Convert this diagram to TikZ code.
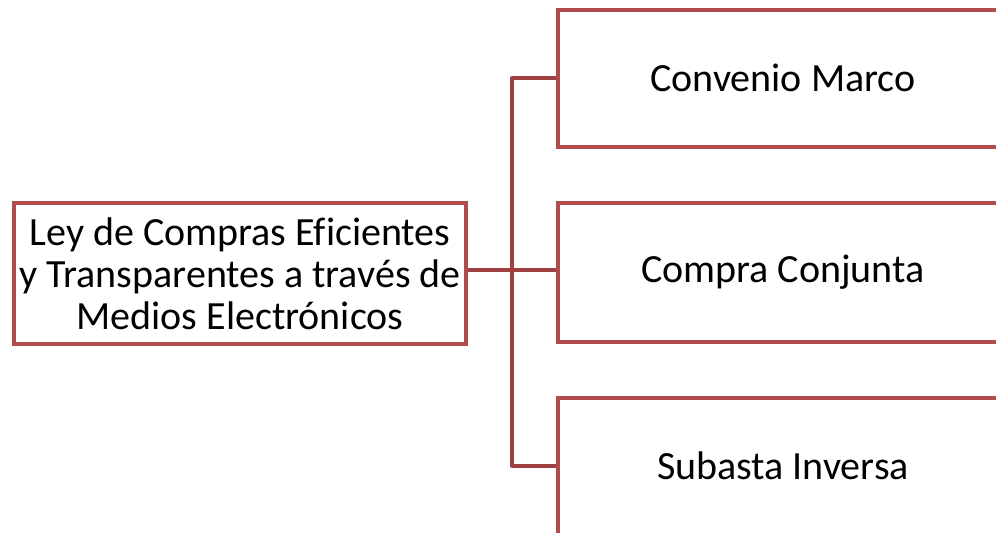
\documentclass[tikz,border=0pt]{standalone}
\usepackage{fontspec}
\setmainfont{Carlito}[Ligatures=CommonOff]
\definecolor{boxred}{RGB}{176,76,76}
\definecolor{linkred}{RGB}{160,64,64}
\begin{document}
\begin{tikzpicture}[x=0.75pt,y=-0.75pt,
        boxnode/.style={draw=boxred, line width=3pt, fill=white, font=\fontsize{30}{31.5}\selectfont, align=center, inner sep=0pt},
        link/.style={draw=linkred, line width=3pt, line join=round}]
                \clip (0,0) rectangle (996,532);
                \useasboundingbox (0,0) rectangle (996,532);

                \node [boxnode, minimum width=452*0.75pt, minimum height=141*0.75pt] (ley) at (240,273.5) {Ley de Compras Eficientes\\y Transparentes a través de\\Medios Electrónicos};

                \node [boxnode, minimum width=450*0.75pt, minimum height=137*0.75pt, anchor=west] (marco) at (556,78) {Convenio Marco};
                \node [boxnode, minimum width=450*0.75pt, minimum height=139*0.75pt, anchor=west] (conjunta) at (556,272.5) {Compra Conjunta};
                \node [boxnode, minimum width=450*0.75pt, minimum height=137*0.75pt, anchor=west] (subasta) at (556,466) {Subasta Inversa};

                \coordinate (hub) at (512,270);
                \draw [link] (ley.east |- hub) -- (hub);
                \draw [link] (marco.west) -- (hub |- marco.west) -- (hub |- subasta.west) -- (subasta.west);
                \draw [link] (hub) -- (hub -| conjunta.west);
            \end{tikzpicture}
\end{document}
